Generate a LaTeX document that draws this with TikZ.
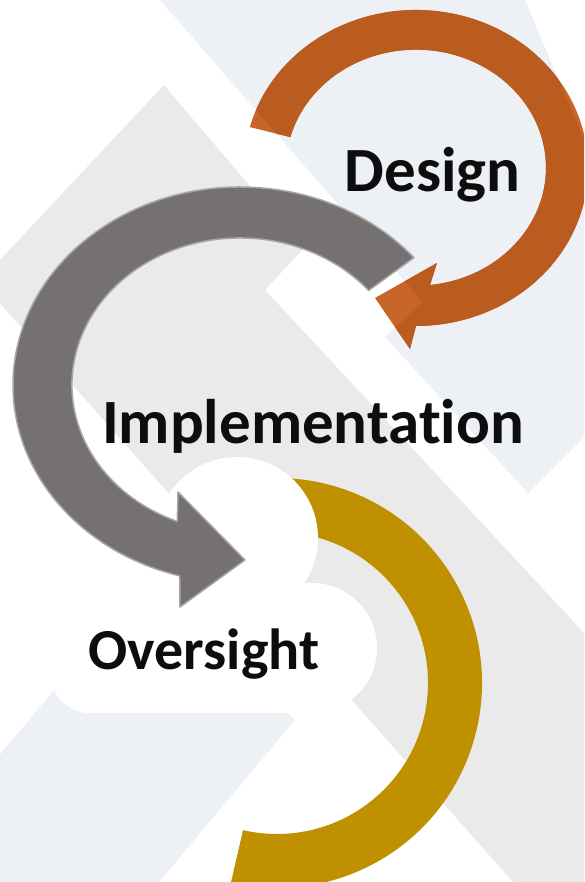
\documentclass[tikz,border=0pt]{standalone}
\usepackage{fontspec}
\setmainfont{Carlito}[Ligatures={CommonOff,ContextualOff}]
\usetikzlibrary{calc}
\definecolor{bgblue}{HTML}{EDF1F6}
\definecolor{bggray}{HTML}{EAEAEA}
\definecolor{ordark}{HTML}{BA5B1F}
\definecolor{orlight}{HTML}{C8662A}
\definecolor{grayarrow}{HTML}{767171}
\definecolor{grayedge}{HTML}{A6A6A6}
\definecolor{goldring}{HTML}{BF9000}
\definecolor{ink}{HTML}{0D0D0D}
\begin{document}
\begin{tikzpicture}[x=1pt,y=1pt,
  lbl/.style={anchor=base,inner sep=0pt,text=ink,font=\fontsize{63}{70}\selectfont\bfseries},
  ringarrow/.style={fill=grayarrow,draw=grayedge,line width=1.5pt,line join=round}]
\useasboundingbox (0,0) rectangle (584,882);
\clip (0,0) rectangle (584,882);
% centres
\coordinate (O1) at (416,714);
\coordinate (O2) at (240,497);
\coordinate (O3) at (277,199);
\coordinate (O4) at (237,344);
% background
\fill[white] (0,0) rectangle (584,882);
\fill[bggray] (164,797) -- (0,622) -- (0,579) -- (513,0) -- (584,0) -- (584,249) -- (265,592) -- (303,633) -- cycle;
\def\bluepoly{(160,882) -- (525,882) -- (584,742) -- (584,445) -- (528,389) -- (385,545) -- (423,580) -- cycle}
\fill[bgblue] \bluepoly;
\fill[bgblue] (139,293) -- (295,162) -- (38,-144) -- (-118,-13) -- cycle;
% gold ring
\fill[goldring] ([shift={(257:205)}]O3) arc[start angle=257,end angle=485,radius=205]
  -- ([shift={(125:151)}]O3) arc[start angle=125,end angle=-103,radius=151] -- cycle;
% white cloud
\fill[white] (O4) circle[radius=81];
\fill[white] (312,299) arc[start angle=90,end angle=-90,radius=65] -- (90,169)
  arc[start angle=270,end angle=180,radius=40] -- (50,299) -- cycle;
% grey arrow
\path[ringarrow] ([shift={(40:227 and 198)}]O2) arc[start angle=40,end angle=254.6,x radius=227,y radius=198]
  -- (180,275) -- (245,322) -- (178,390) -- (177.3,360.6)
  arc[start angle=248.1,end angle=40,x radius=168,y radius=147] -- cycle;
% orange arrow
\def\orangepath{([shift={(165:172 and 158)}]O1) arc[start angle=165,end angle=-90,x radius=172,y radius=158]
  -- (410,533) -- (375,584) -- (437,619) -- (430,597)
  arc[start angle=-83.8,end angle=165,x radius=130,y radius=118] -- cycle}
\fill[orlight] \orangepath;
\begin{scope}
  \clip \bluepoly;
  \fill[ordark] \orangepath;
\end{scope}
% labels
\node[lbl] (design) at (432.5,690) {Design};
\node[lbl] (impl) at (313,438) {Implementation};
\node[lbl,font=\fontsize{58}{64}\selectfont\bfseries] (over) at (204,212) {Oversight};
\end{tikzpicture}
\end{document}
